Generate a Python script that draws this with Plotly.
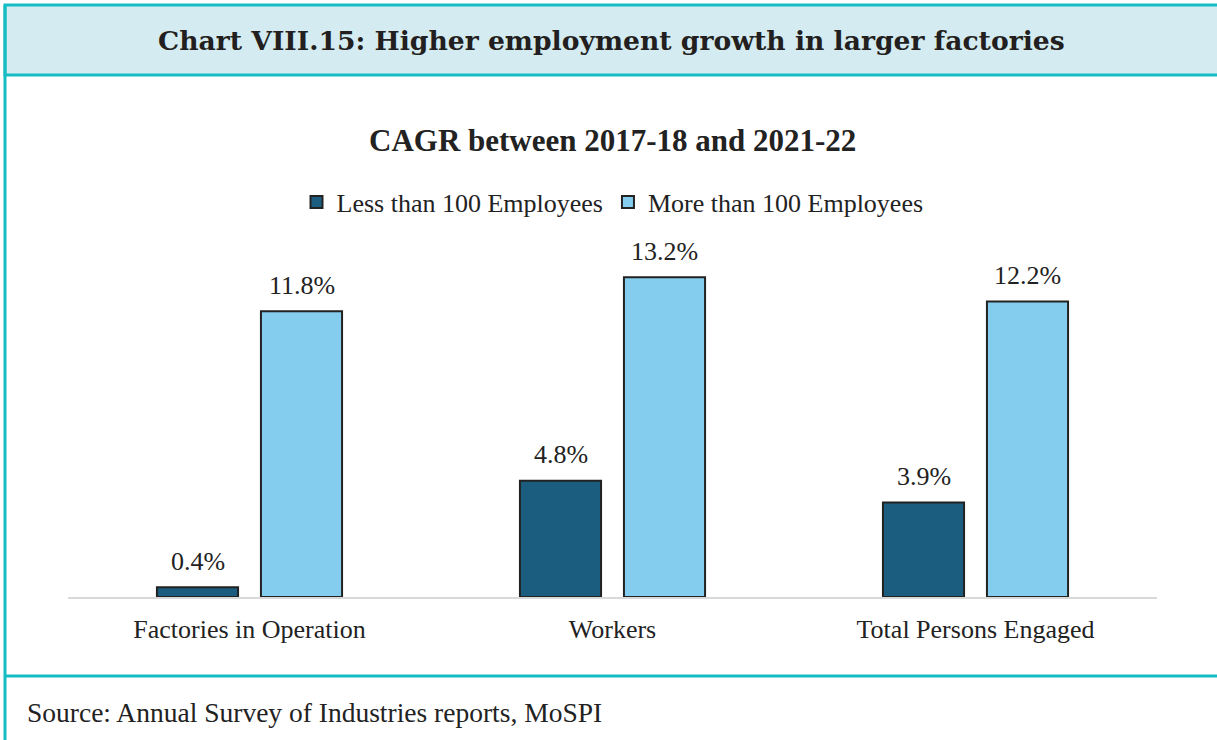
import plotly.graph_objects as go

# Data
categories = ["Factories in Operation", "Workers", "Total Persons Engaged"]
less_100 = [0.4, 4.8, 3.9]
more_100 = [11.8, 13.2, 12.2]
series_names = ["Less than 100 Employees", "More than 100 Employees"]

W, H = 1217, 740
L, R, T, B = 68, 60, 258, 143
PW, PH = W - L - R, H - T - B


def px(x):
    return (x - L) / PW


def py(y):
    return (H - B - y) / PH


SERIF = "Liberation Serif, Times New Roman, serif"
TEAL = "#16BCC4"
INK = "#222222"

fig = go.Figure()
fig.add_trace(go.Bar(
    x=categories, y=less_100, name=series_names[0],
    marker=dict(color="#1B5D7F", line=dict(color=INK, width=2)),
))
fig.add_trace(go.Bar(
    x=categories, y=more_100, name=series_names[1],
    marker=dict(color="#85CDEE", line=dict(color=INK, width=2)),
))

# Value labels above bars
annotations = []
for vals, shift in [(less_100, -52), (more_100, 52)]:
    for c, v in zip(categories, vals):
        annotations.append(dict(
            x=c, y=v, xref="x", yref="y", text=f"{v:.1f}%", showarrow=False,
            xshift=shift, yshift=26, yanchor="middle",
            font=dict(family=SERIF, size=26, color=INK),
        ))

# Header, subtitle, source
annotations.append(dict(
    x=px(611), y=py(40), xref="paper", yref="paper", showarrow=False,
    text="<b>Chart VIII.15: Higher employment growth in larger factories</b>",
    font=dict(family="Georgia, DejaVu Serif, serif", size=26.6, color="#231F20"),
    xanchor="center", yanchor="middle",
))
annotations.append(dict(
    x=px(612), y=py(140), xref="paper", yref="paper", showarrow=False,
    text="<b>CAGR between 2017-18 and 2021-22</b>",
    font=dict(family=SERIF, size=31, color=INK),
    xanchor="center", yanchor="middle",
))
annotations.append(dict(
    x=px(25), y=py(712), xref="paper", yref="paper", showarrow=False,
    text="Source: Annual Survey of Industries reports, MoSPI",
    font=dict(family=SERIF, size=27.5, color=INK),
    xanchor="left", yanchor="middle",
))

shapes = [
    dict(type="rect", xref="paper", yref="paper", layer="below",
         x0=px(5), x1=px(1230), y0=py(5), y1=py(75),
         fillcolor="#D4ECF1", line=dict(color=TEAL, width=3)),
    dict(type="line", xref="paper", yref="paper",
         x0=px(5), x1=px(5), y0=py(5), y1=py(745),
         line=dict(color=TEAL, width=3)),
    dict(type="line", xref="paper", yref="paper",
         x0=px(5), x1=px(1230), y0=py(676), y1=py(676),
         line=dict(color=TEAL, width=3)),
]

fig.update_layout(
    width=W, height=H,
    margin=dict(l=L, r=R, t=T, b=B),
    paper_bgcolor="white", plot_bgcolor="white",
    barmode="group", bargap=0.427, bargroupgap=0.22,
    font=dict(family=SERIF, size=26, color=INK),
    showlegend=True,
    legend=dict(
        orientation="h", x=0.5, xanchor="center", y=py(202), yanchor="middle",
        font=dict(family=SERIF, size=26, color=INK),
        itemwidth=30, tracegroupgap=0,
    ),
    annotations=annotations,
    shapes=shapes,
)
fig.update_xaxes(
    showline=True, linecolor="#D9D9D9", linewidth=2,
    showgrid=False, ticks="", ticklabelstandoff=8,
    tickfont=dict(family=SERIF, size=26, color=INK),
)
fig.update_yaxes(range=[0, 14], visible=False, showgrid=False, zeroline=False)

fig.write_html("out.html", config={"displayModeBar": False},
               post_script="document.body.style.margin='0';")
